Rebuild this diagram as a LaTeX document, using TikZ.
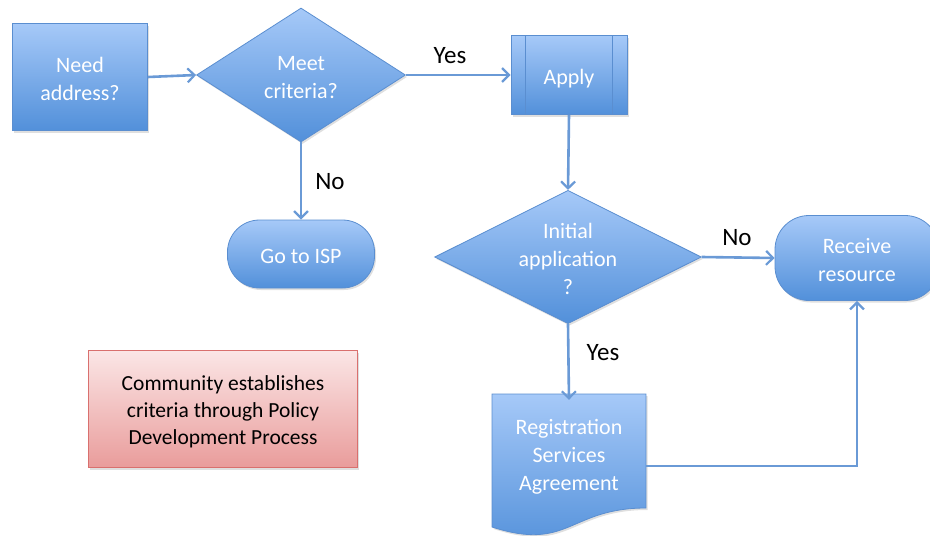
\documentclass[tikz,border=0pt]{standalone}
\usepackage{fontspec}
\setmainfont{Carlito}
\usetikzlibrary{shapes.geometric,arrows.meta,shadows}
\definecolor{bluetop}{HTML}{A6C9F8}
\definecolor{bluebot}{HTML}{5290DA}
\definecolor{blueline}{HTML}{5A8ED0}
\definecolor{arrowc}{HTML}{6A9AD6}
\definecolor{pinktop}{HTML}{FBE6E6}
\definecolor{pinkbot}{HTML}{E99C9B}
\definecolor{pinkline}{HTML}{D9706E}
\newcommand\ntext[2][-4pt]{\raisebox{#1}[\height][\depth]{\begin{tabular}{@{}c@{}}#2\end{tabular}}}
\tikzset{
  bluefill/.style={draw=blueline, line width=0.8pt, top color=bluetop, bottom color=bluebot,
    text=white, font=\fontsize{22}{28}\selectfont, inner sep=0pt,
    drop shadow={shadow xshift=1.5pt, shadow yshift=-2pt, opacity=0.25}},
  procbox/.style={bluefill, rectangle},
  decis/.style={bluefill, diamond},
  termbox/.style={bluefill, rectangle},
  conn/.style={draw=arrowc, line width=2.6pt, -{Straight Barb[length=7pt,width=14pt,line width=2.2pt]}},
  lbl/.style={font=\fontsize{25}{30}\selectfont, text=black},
}
\begin{document}
\begin{tikzpicture}[x=1pt,y=-1pt]
\useasboundingbox (0,0) rectangle (930,536);
% document shape
\path[draw=blueline, line width=0.8pt, top color=bluetop, bottom color=bluebot,
  drop shadow={shadow xshift=1.5pt, shadow yshift=-2pt, opacity=0.25}]
  (492,394) -- (646,394) -- (646,508) .. controls (569,508) and (569,552) .. (492,527) -- cycle;
\node[procbox, minimum width=135pt, minimum height=107pt] (need) at (80,77) {\ntext{Need\\address?}};
\node[decis, aspect=1.56, minimum width=209pt, minimum height=134pt] (meet) at (301,75) {\ntext{Meet\\criteria?}};
\node[procbox, minimum width=116pt, minimum height=79pt] (apply) at (569,75) {\ntext{Apply}};
\draw[blueline, line width=0.6pt] ([xshift=15pt]apply.north west) -- ([xshift=15pt]apply.south west)
  ([xshift=-15pt]apply.north east) -- ([xshift=-15pt]apply.south east);
\node[termbox, rounded corners=32pt, minimum width=147pt, minimum height=68pt] (isp) at (301,254) {\ntext{Go to ISP}};
\node[decis, aspect=2, minimum width=260pt, minimum height=133pt] (init) at (568,257) {\ntext{Initial\\application\\?}};
\node[termbox, rounded corners=34pt, minimum width=164pt, minimum height=85pt] (recv) at (857,258) {\ntext{Receive\\resource}};
\node[text=white, font=\fontsize{22}{28}\selectfont, inner sep=0pt,
  minimum width=154pt, minimum height=110pt] (reg) at (569,455) {\ntext[-2pt]{Registration\\Services\\Agreement}};
\node[draw=pinkline, line width=0.8pt, top color=pinktop, bottom color=pinkbot,
  minimum width=269pt, minimum height=117pt, inner sep=0pt,
  font=\fontsize{21.5}{27}\selectfont,
  drop shadow={shadow xshift=1.5pt, shadow yshift=-2pt, opacity=0.25}] (comm) at (223,409)
  {\ntext[-3pt]{Community establishes\\criteria through Policy\\Development Process}};
% connectors
\draw[conn] (need.east) -- (meet.west);
\draw[conn] (meet.east) -- (apply.west);
\draw[conn] (meet.south) -- (isp.north);
\draw[conn] (apply.south) -- (init.north);
\draw[conn] (init.east) -- (recv.west);
\draw[conn] (init.south) -- (reg.north);
\draw[conn] ([yshift=-11pt]reg.east) -| (recv.south);
% labels
\node[lbl] (l1) at (450,56) {Yes};
\node[lbl] (l2) at (330,182) {No};
\node[lbl] (l3) at (737,238) {No};
\node[lbl] (l4) at (603,353) {Yes};
\end{tikzpicture}
\end{document}
